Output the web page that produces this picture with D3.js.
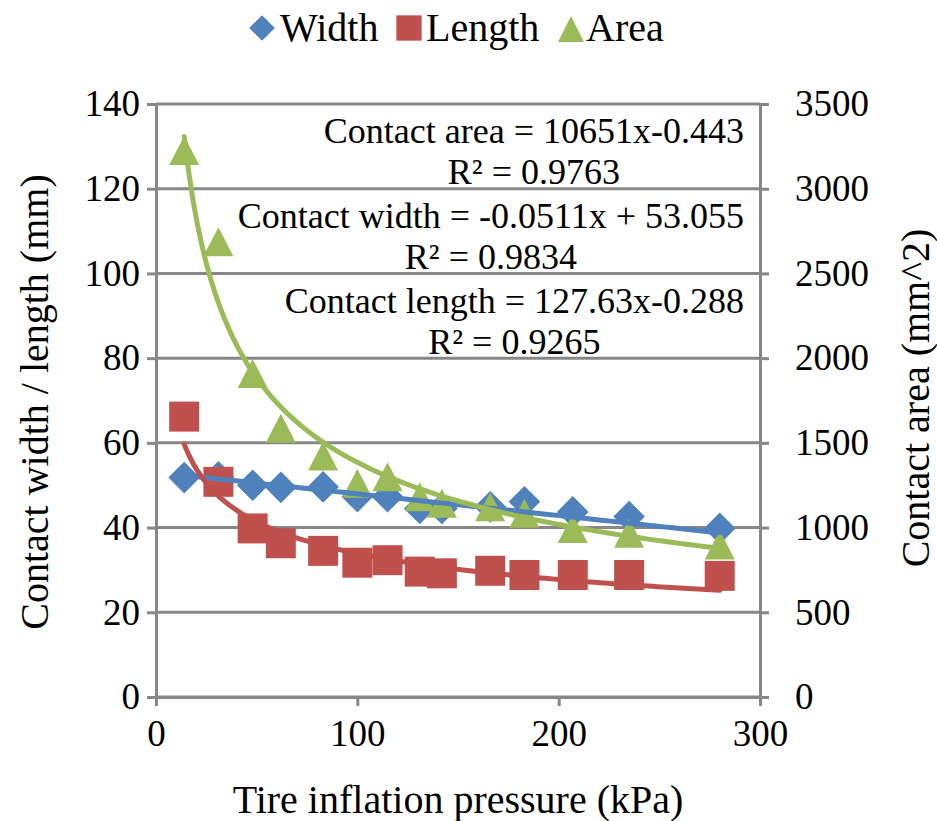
<!DOCTYPE html>
<html>
<head>
<meta charset="utf-8">
<script src="https://cdn.jsdelivr.net/npm/d3@7"></script>
<style>
  body { margin: 0; background: #fff; }
  svg text { font-family: "Liberation Serif", Tinos, "Times New Roman", Times, "DejaVu Serif", "Noto Serif", serif; fill: #000; }
</style>
</head>
<body>
<div id="container"></div>
<script>
const pressure = [14, 31, 48, 62, 83, 100, 115, 131, 142, 166, 183, 207, 235, 280]
const widthVals = [51.8, 52.0, 50.0, 49.5, 49.6, 47.3, 47.3, 44.5, 44.5, 44.9, 46.1, 43.7, 42.6, 39.8]
const lengthVals = [66.2, 50.8, 39.8, 36.3, 34.5, 31.7, 32.3, 29.6, 29.2, 29.8, 28.8, 28.8, 28.8, 28.6]
const areaVals = [3225, 2687, 1910, 1586, 1422, 1261, 1300, 1182, 1143, 1123, 1084, 995, 966, 897]

const xTicks = [0, 100, 200, 300]
const leftTicks = [0, 20, 40, 60, 80, 100, 120, 140]
const rightTicks = [0, 500, 1000, 1500, 2000, 2500, 3000, 3500]

// trendline coefficients, as printed on the chart
const areaFit = { a: 10651, b: -0.443 }
const widthFit = { m: -0.0511, c: 53.055 }
const lengthFit = { a: 127.63, b: -0.288 }

const labels = [
    ["Contact area = 10651x-0.443", "R² = 0.9763"],
    ["Contact width = -0.0511x + 53.055", "R² = 0.9834"],
    ["Contact length = 127.63x-0.288", "R² = 0.9265"]
]

const W = 937, H = 821
const blue = "#4F81BD", red = "#C0504D", green = "#9BBB59", grey = "#878787"
const serif = '"Liberation Serif", Tinos, "Times New Roman", Times, "DejaVu Serif", "Noto Serif", serif'

const svg = d3.select("#container").append("svg")
    .attr("width", W).attr("height", H)

const x = d3.scaleLinear().domain([0, 300]).range([156, 760])
const yL = d3.scaleLinear().domain([0, 140]).range([697, 104])
const yR = d3.scaleLinear().domain([0, 3500]).range([697, 104])

// gridlines
svg.append("g")
    .selectAll("line")
    .data(leftTicks)
    .join("line")
    .attr("x1", x(0)).attr("x2", x(300))
    .attr("y1", d => yL(d)).attr("y2", d => yL(d))
    .attr("stroke", grey).attr("stroke-width", 3)

function styleAxis(g){
    g.attr("font-family", null).attr("font-size", null)
    g.select(".domain").attr("stroke", grey).attr("stroke-width", 3)
    g.selectAll(".tick line").attr("stroke", grey).attr("stroke-width", 3)
    g.selectAll(".tick text")
        .style("font-family", serif)
        .style("font-size", "37px").attr("fill", "#000")
}

svg.append("g")
    .attr("transform", `translate(${x(0)},0)`)
    .call(d3.axisLeft(yL).tickValues(leftTicks).tickFormat(d3.format("d")).tickSize(9).tickPadding(7).tickSizeOuter(0))
    .call(styleAxis)

svg.append("g")
    .attr("transform", `translate(${x(300)},0)`)
    .call(d3.axisRight(yR).tickValues(rightTicks).tickFormat(d3.format("d")).tickSize(9).tickPadding(26).tickSizeOuter(0))
    .call(styleAxis)

svg.append("g")
    .attr("transform", `translate(0,${yL(0)})`)
    .call(d3.axisBottom(x).tickValues(xTicks).tickFormat(d3.format("d")).tickSize(9).tickPadding(14).tickSizeOuter(0))
    .call(styleAxis)

// axis titles
svg.append("text")
    .attr("x", 458).attr("y", 813)
    .attr("text-anchor", "middle")
    .style("font-size", "40px")
    .text("Tire inflation pressure (kPa)")

svg.append("text")
    .attr("transform", "translate(48,402) rotate(-90)")
    .attr("text-anchor", "middle")
    .style("font-size", "40px")
    .text("Contact width / length (mm)")

svg.append("text")
    .attr("transform", "translate(929,398) rotate(-90)")
    .attr("text-anchor", "middle")
    .style("font-size", "40px")
    .text("Contact area (mm^2)")

// markers
const diamond = d3.symbol().type(d3.symbolSquare).size(500)
const square = d3.symbol().type(d3.symbolSquare).size(900)
const tri = "M0,-14.5L15,14.5L-15,14.5Z"

svg.append("g").selectAll("path")
    .data(pressure.map((p, i) => [p, widthVals[i]]))
    .join("path")
    .attr("d", diamond)
    .attr("transform", d => `translate(${x(d[0])},${yL(d[1])}) rotate(45)`)
    .attr("fill", blue)

svg.append("g").selectAll("path")
    .data(pressure.map((p, i) => [p, lengthVals[i]]))
    .join("path")
    .attr("d", square)
    .attr("transform", d => `translate(${x(d[0])},${yL(d[1])})`)
    .attr("fill", red)

svg.append("g").selectAll("path")
    .data(pressure.map((p, i) => [p, areaVals[i]]))
    .join("path")
    .attr("d", tri)
    .attr("transform", d => `translate(${x(d[0])},${yR(d[1])})`)
    .attr("fill", green)

// trendlines
const xs = d3.range(0, 121).map(i => pressure[0] + (pressure[pressure.length - 1] - pressure[0]) * i / 120)

const lineL = d3.line().x(d => x(d[0])).y(d => yL(d[1]))
const lineR = d3.line().x(d => x(d[0])).y(d => yR(d[1]))

svg.append("path")
    .datum(xs.map(v => [v, widthFit.m * v + widthFit.c]))
    .attr("d", lineL).attr("fill", "none")
    .attr("stroke", blue).attr("stroke-width", 5).attr("stroke-linecap", "round")

svg.append("path")
    .datum(xs.map(v => [v, lengthFit.a * Math.pow(v, lengthFit.b)]))
    .attr("d", lineL).attr("fill", "none")
    .attr("stroke", red).attr("stroke-width", 5).attr("stroke-linecap", "round")

svg.append("path")
    .datum(xs.map(v => [v, areaFit.a * Math.pow(v, areaFit.b)]))
    .attr("d", lineR).attr("fill", "none")
    .attr("stroke", green).attr("stroke-width", 5).attr("stroke-linecap", "round")

// equation labels
const labelTop = [143, 228, 313]
labels.forEach((pair, i) => {
    const t1 = svg.append("text")
        .attr("x", 744).attr("y", labelTop[i])
        .attr("text-anchor", "end")
        .style("font-size", "36px")
        .text(pair[0])
    const w = t1.node().getComputedTextLength()
    svg.append("text")
        .attr("x", 744 - w / 2).attr("y", labelTop[i] + 41)
        .attr("text-anchor", "middle")
        .style("font-size", "36px")
        .text(pair[1])
})

// legend
const legend = svg.append("g")
legend.append("path").attr("d", d3.symbol().type(d3.symbolSquare).size(330))
    .attr("transform", "translate(262,28) rotate(45)").attr("fill", blue)
legend.append("text").attr("x", 280).attr("y", 41).style("font-size", "40px").text("Width")
legend.append("path").attr("d", d3.symbol().type(d3.symbolSquare).size(640))
    .attr("transform", "translate(409,28)").attr("fill", red)
legend.append("text").attr("x", 426).attr("y", 41).style("font-size", "40px").text("Length")
legend.append("path").attr("d", "M0,-13L13,13L-13,13Z")
    .attr("transform", "translate(571,29)").attr("fill", green)
legend.append("text").attr("x", 586).attr("y", 41).style("font-size", "40px").text("Area")
</script>
</body>
</html>
